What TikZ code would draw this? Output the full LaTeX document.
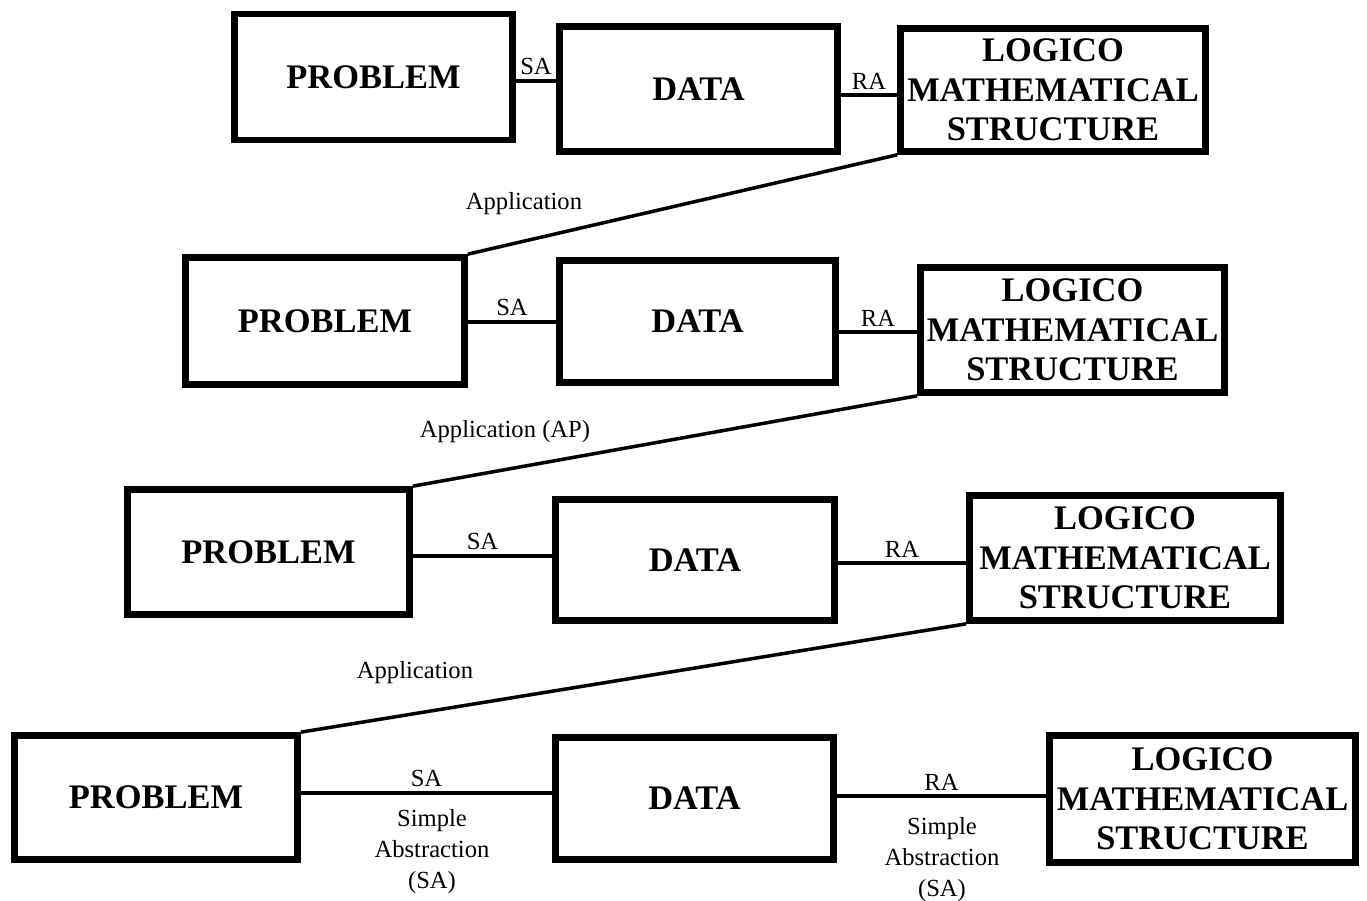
\documentclass[tikz,border=0pt]{standalone}
\usepackage{fontspec}
\setmainfont{Liberation Serif}
\usetikzlibrary{positioning}

\begin{document}
\begin{tikzpicture}
  \tikzset{
    block/.style={
      draw,
      line width=1.9pt,
      align=center,
      anchor=center,
      inner sep=1pt,
      font=\bfseries\fontsize{9.8}{11.2}\selectfont
    },
    link/.style={line width=1pt},
    lbl/.style={font=\fontsize{7}{8.8}\selectfont, inner sep=1.2pt, align=center}
  }

  \useasboundingbox (0,0) rectangle (13.67,-9.01);

  % Row 1
  \node[block, minimum width=2.78cm, minimum height=1.26cm] (p1) at (3.735,-0.77) {PROBLEM};
  \node[block, minimum width=2.78cm, minimum height=1.25cm] (d1) at (6.985,-0.89) {DATA};
  \node[block, minimum width=3.05cm, minimum height=1.23cm] (l1) at (10.53,-0.90) {LOGICO\\MATHEMATICAL\\STRUCTURE};
  \draw[link] (p1.east |- 0,-0.81) -- node[midway, above, lbl] {SA} (d1.west |- 0,-0.81);
  \draw[link] (d1.east |- 0,-0.95) -- node[midway, above, lbl] {RA} (l1.west |- 0,-0.95);

  % Row 2
  \node[block, minimum width=2.79cm, minimum height=1.27cm] (p2) at (3.25,-3.21) {PROBLEM};
  \node[block, minimum width=2.76cm, minimum height=1.22cm] (d2) at (6.975,-3.215) {DATA};
  \node[block, minimum width=3.04cm, minimum height=1.25cm] (l2) at (10.725,-3.30) {LOGICO\\MATHEMATICAL\\STRUCTURE};
  \draw[link] (p2.east |- 0,-3.22) -- node[midway, above, lbl] {SA} (d2.west |- 0,-3.22);
  \draw[link] (d2.east |- 0,-3.32) -- node[midway, above, lbl] {RA} (l2.west |- 0,-3.32);

  % Application 1
  \draw[link] (l1.south west) -- (p2.north east);
  \node[lbl] (ap1) at (5.24,-2.04) {Application};

  % Row 3
  \node[block, minimum width=2.82cm, minimum height=1.25cm] (p3) at (2.685,-5.52) {PROBLEM};
  \node[block, minimum width=2.79cm, minimum height=1.21cm] (d3) at (6.95,-5.60) {DATA};
  \node[block, minimum width=3.11cm, minimum height=1.25cm] (l3) at (11.25,-5.58) {LOGICO\\MATHEMATICAL\\STRUCTURE};
  \draw[link] (p3.east |- 0,-5.56) -- node[midway, above, lbl] {SA} (d3.west |- 0,-5.56);
  \draw[link] (d3.east |- 0,-5.63) -- node[midway, above, lbl] {RA} (l3.west |- 0,-5.63);

  % Application 2
  \draw[link] (l2.south west) -- (p3.north east);
  \node[lbl] (ap2) at (5.05,-4.32) {Application (AP)};

  % Row 4
  \node[block, minimum width=2.83cm, minimum height=1.24cm] (p4) at (1.56,-7.975) {PROBLEM};
  \node[block, minimum width=2.78cm, minimum height=1.22cm] (d4) at (6.945,-7.985) {DATA};
  \node[block, minimum width=3.06cm, minimum height=1.27cm] (l4) at (12.025,-7.99) {LOGICO\\MATHEMATICAL\\STRUCTURE};
  \draw[link] (p4.east |- 0,-7.93) -- node[midway, above, lbl] {SA} (d4.west |- 0,-7.93);
  \draw[link] (d4.east |- 0,-7.96) -- node[midway, above, lbl] {RA} (l4.west |- 0,-7.96);
  \node[lbl] (sa4) at (4.32,-8.52) {Simple\\Abstraction\\(SA)};
  \node[lbl] (ra4) at (9.42,-8.60) {Simple\\Abstraction\\(SA)};

  % Application 3
  \draw[link] (l3.south west) -- (p4.north east);
  \node[lbl] (ap3) at (4.15,-6.73) {Application};
\end{tikzpicture}
\end{document}
